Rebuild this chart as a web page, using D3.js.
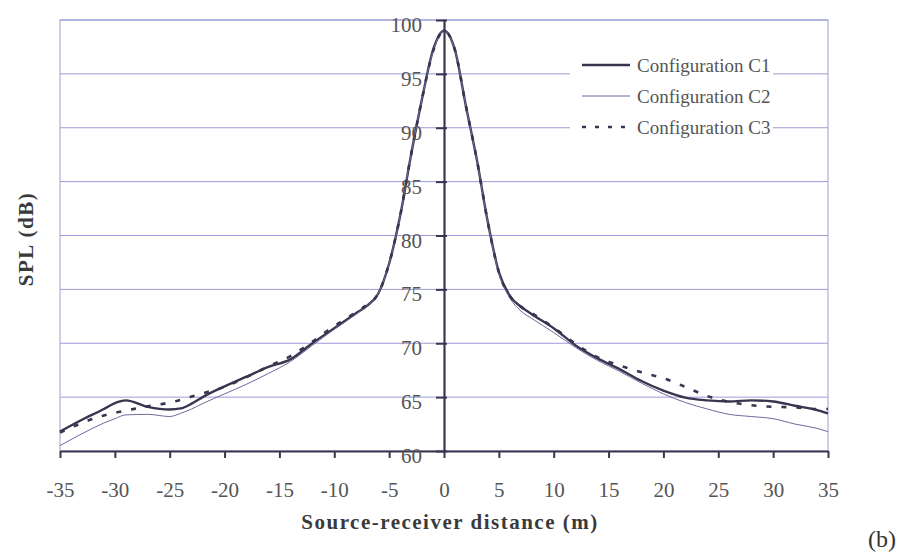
<!DOCTYPE html>
<html>
<head>
<meta charset="utf-8">
<script src="https://cdn.jsdelivr.net/npm/d3@7"></script>
<style>
  html, body { margin: 0; padding: 0; background: #ffffff; }
  svg { display: block; }
</style>
</head>
<body>
<svg id="chart" width="903" height="552"></svg>
<script>
// ---- Data ----
const distances = [-35,-33,-31,-30,-29,-27,-25,-24,-23,-22,-20,-18,-16,-14,-12,-10,-8,-7,-6,-5,-4,-3,-2,-1,0,1,2,3,4,5,6,7,8,10,12,14,16,18,20,22,24,26,28,30,32,34,35];
const splC1 = [61.8,62.9,63.9,64.45,64.7,64.1,63.85,63.95,64.4,65.0,66.0,66.9,67.8,68.5,70.0,71.4,72.8,73.5,74.6,77.4,81.8,87.5,92.7,97.2,99.0,97.2,92.0,87.0,81.2,76.6,74.4,73.4,72.7,71.4,69.8,68.6,67.6,66.5,65.6,64.95,64.7,64.6,64.7,64.6,64.2,63.8,63.5];
const splC2 = [60.5,61.6,62.6,63.0,63.35,63.4,63.2,63.5,63.9,64.4,65.3,66.2,67.2,68.3,69.8,71.3,72.7,73.5,74.6,77.4,81.8,87.5,92.7,97.1,99.0,97.2,92.0,87.0,81.2,76.5,74.2,73.0,72.3,71.0,69.6,68.4,67.4,66.3,65.3,64.5,63.9,63.4,63.2,63.0,62.5,62.1,61.8];
const splC3 = [61.7,62.6,63.3,63.55,63.75,64.15,64.5,64.75,65.05,65.35,65.95,66.85,67.85,68.8,70.15,71.6,72.9,73.6,74.6,77.4,81.8,87.5,92.7,97.1,99.0,97.2,92.0,87.0,81.2,76.6,74.4,73.4,72.8,71.45,69.95,68.7,67.95,67.3,66.75,65.95,65.1,64.55,64.25,64.1,64.05,63.9,63.9];
const seriesNames = ["Configuration C1", "Configuration C2", "Configuration C3"];
const xTicks = [-35,-30,-25,-20,-15,-10,-5,0,5,10,15,20,25,30,35];
const yTicks = [60,65,70,75,80,85,90,95,100];
const xTitle = "Source-receiver distance (m)";
const yTitle = "SPL (dB)";
const panelLabel = "(b)";

// ---- Layout ----
const svg = d3.select("#chart");
const plotLeft = 60, plotRight = 828, plotTop = 20, plotBottom = 451;
const x = d3.scaleLinear().domain([-35, 35]).range([plotLeft, plotRight]);
const y = d3.scaleLinear().domain([60, 100]).range([plotBottom, plotTop]);

const gridColor = "#9b9bd6";
const inkColor = "#3b344f";
const textColor = "#555555";
const serif = "'Liberation Serif', 'Times New Roman', serif";

// gridlines
svg.append("g").selectAll("line").data(yTicks.filter(t => t > 60)).join("line")
  .attr("x1", plotLeft).attr("x2", plotRight)
  .attr("y1", d => y(d)).attr("y2", d => y(d))
  .attr("stroke", gridColor).attr("stroke-width", 1);

// frame
svg.append("rect")
  .attr("x", plotLeft).attr("y", plotTop)
  .attr("width", plotRight - plotLeft).attr("height", plotBottom - plotTop)
  .attr("fill", "none").attr("stroke", gridColor).attr("stroke-width", 1);

// curves
const line = d3.line().x(d => x(d[0])).y(d => y(d[1])).curve(d3.curveMonotoneX);
const series = [
  { name: seriesNames[0], values: splC1, width: 2.4, color: inkColor, dash: null },
  { name: seriesNames[1], values: splC2, width: 1, color: "#6b6b9e", dash: null },
  { name: seriesNames[2], values: splC3, width: 2.6, color: inkColor, dash: "5,10" }
];
series.forEach(s => {
  svg.append("path")
    .datum(distances.map((d, i) => [d, s.values[i]]))
    .attr("d", line)
    .attr("fill", "none")
    .attr("stroke", s.color)
    .attr("stroke-width", s.width)
    .attr("stroke-dasharray", s.dash)
    .attr("stroke-linejoin", "round");
});

// x axis (bottom)
const xAxis = d3.axisBottom(x).tickValues(xTicks).tickFormat(d => String(d))
  .tickSize(7).tickSizeOuter(0).tickPadding(24);
const gx = svg.append("g").attr("transform", `translate(0,${plotBottom})`).call(xAxis);
gx.select(".domain").attr("stroke", inkColor).attr("stroke-width", 2.2);
gx.selectAll(".tick line").attr("stroke", inkColor).attr("stroke-width", 2);
gx.selectAll(".tick text").attr("font-family", serif).attr("font-size", 21).attr("fill", textColor);

// y axis at x = 0, with crossing ticks
const gy = svg.append("g").attr("transform", `translate(${x(0)},0)`)
  .call(d3.axisLeft(y).tickValues(yTicks).tickFormat(d => String(d))
    .tickSize(8).tickSizeOuter(0).tickPadding(14));
gy.select(".domain").attr("stroke", inkColor).attr("stroke-width", 2.2);
gy.selectAll(".tick line").attr("stroke", inkColor).attr("stroke-width", 2).attr("x2", 3).attr("x1", -8);
gy.selectAll(".tick text").attr("font-family", serif).attr("font-size", 21).attr("fill", textColor)
  .attr("dy", "0.55em");

// legend
const lg = svg.append("g");
lg.append("rect").attr("x", 570).attr("y", 50).attr("width", 203).attr("height", 92).attr("fill", "#ffffff");
series.forEach((s, i) => {
  const ly = 65 + i * 31;
  lg.append("line").attr("x1", 582).attr("x2", 630).attr("y1", ly).attr("y2", ly)
    .attr("stroke", s.color).attr("stroke-width", s.width).attr("stroke-dasharray", s.dash ? "4,9" : null);
  lg.append("text").attr("x", 637).attr("y", ly + 7).text(s.name)
    .attr("font-family", serif).attr("font-size", 19).attr("fill", textColor);
});

// axis titles
svg.append("text").attr("x", 450).attr("y", 529).attr("text-anchor", "middle")
  .attr("font-family", serif).attr("font-weight", "bold").attr("font-size", 21)
  .attr("letter-spacing", 1.5).attr("fill", "#3a3a3a").text(xTitle);
svg.append("text").attr("transform", "translate(33,239) rotate(-90)").attr("text-anchor", "middle")
  .attr("font-family", serif).attr("font-weight", "bold").attr("font-size", 21)
  .attr("letter-spacing", 1.5).attr("fill", "#3a3a3a").text(yTitle);

// panel label
svg.append("text").attr("x", 868).attr("y", 547)
  .attr("font-family", serif).attr("font-size", 24).attr("fill", "#333333").text(panelLabel);
</script>
</body>
</html>
